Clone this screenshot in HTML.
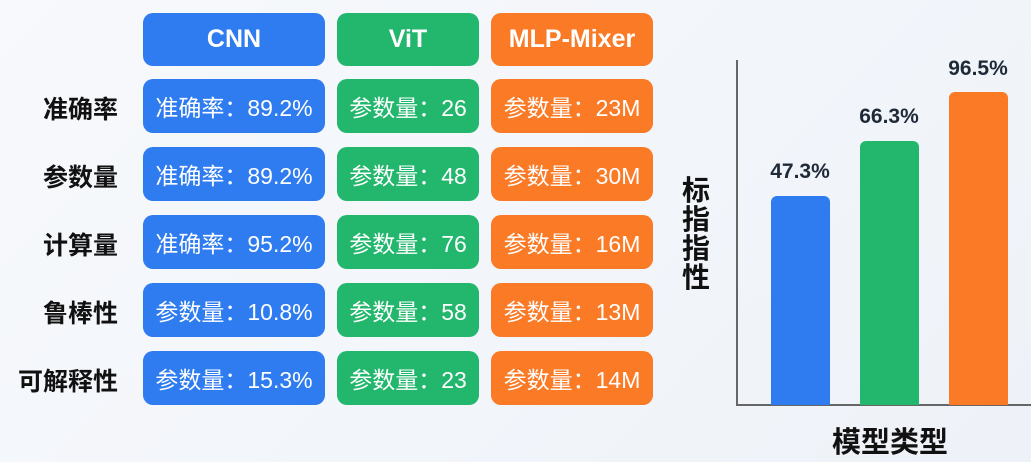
<!DOCTYPE html>
<html><head><meta charset="utf-8"><style>
body{margin:0;width:1031px;height:462px;overflow:hidden;background:linear-gradient(135deg,#f7f9fc,#eef2f8);font-family:"Liberation Sans","Noto Sans CJK SC",sans-serif;position:relative}
.c{position:absolute;border-radius:10px;color:#fff;display:flex;align-items:center;justify-content:center;font-size:23px}
.b{background:#2f7cf0}.g{background:#22b76c}.o{background:#fa7a26}
.h{font-size:25px;font-weight:bold}
.l{position:absolute;width:118px;text-align:right;font-size:25px;font-weight:bold;color:#111}
.bar{position:absolute;width:59px;border-radius:6px 6px 0 0;bottom:57px}
.v{position:absolute;width:100px;text-align:center;font-size:21px;font-weight:bold;color:#1f2937}
</style></head><body>
<div class="c b h" style="left:143px;top:13px;width:182px;height:53px">CNN</div>
<div class="c g h" style="left:337px;top:13px;width:142px;height:53px">ViT</div>
<div class="c o h" style="left:491px;top:13px;width:162px;height:53px">MLP-Mixer</div>

<div class="l" style="left:0;top:90px">准确率</div>
<div class="c b" style="left:143px;top:79px;width:182px;height:54px">准确率：89.2%</div>
<div class="c g" style="left:337px;top:79px;width:142px;height:54px">参数量：26</div>
<div class="c o" style="left:491px;top:79px;width:162px;height:54px">参数量：23M</div>

<div class="l" style="left:0;top:158px">参数量</div>
<div class="c b" style="left:143px;top:147px;width:182px;height:54px">准确率：89.2%</div>
<div class="c g" style="left:337px;top:147px;width:142px;height:54px">参数量：48</div>
<div class="c o" style="left:491px;top:147px;width:162px;height:54px">参数量：30M</div>

<div class="l" style="left:0;top:226px">计算量</div>
<div class="c b" style="left:143px;top:215px;width:182px;height:54px">准确率：95.2%</div>
<div class="c g" style="left:337px;top:215px;width:142px;height:54px">参数量：76</div>
<div class="c o" style="left:491px;top:215px;width:162px;height:54px">参数量：16M</div>

<div class="l" style="left:0;top:294px">鲁棒性</div>
<div class="c b" style="left:143px;top:283px;width:182px;height:54px">参数量：10.8%</div>
<div class="c g" style="left:337px;top:283px;width:142px;height:54px">参数量：58</div>
<div class="c o" style="left:491px;top:283px;width:162px;height:54px">参数量：13M</div>

<div class="l" style="left:0;top:362px">可解释性</div>
<div class="c b" style="left:143px;top:351px;width:182px;height:54px">参数量：15.3%</div>
<div class="c g" style="left:337px;top:351px;width:142px;height:54px">参数量：23</div>
<div class="c o" style="left:491px;top:351px;width:162px;height:54px">参数量：14M</div>

<div style="position:absolute;left:736px;top:60px;width:2px;height:346px;background:#666"></div>
<div style="position:absolute;left:736px;top:404px;width:295px;height:2px;background:#666"></div>
<div class="bar b" style="left:771px;top:196px"></div>
<div class="bar g" style="left:860px;top:141px"></div>
<div class="bar o" style="left:949px;top:92px"></div>
<div class="v" style="left:750px;top:160px">47.3%</div>
<div class="v" style="left:839px;top:105px">66.3%</div>
<div class="v" style="left:928px;top:57px">96.5%</div>
<div style="position:absolute;left:682px;top:176px;width:30px;font-size:28px;font-weight:bold;line-height:29px;color:#111">标指指性</div>
<div style="position:absolute;left:790px;top:419px;width:200px;text-align:center;font-size:29px;font-weight:bold;color:#111">模型类型</div>
</body></html>
